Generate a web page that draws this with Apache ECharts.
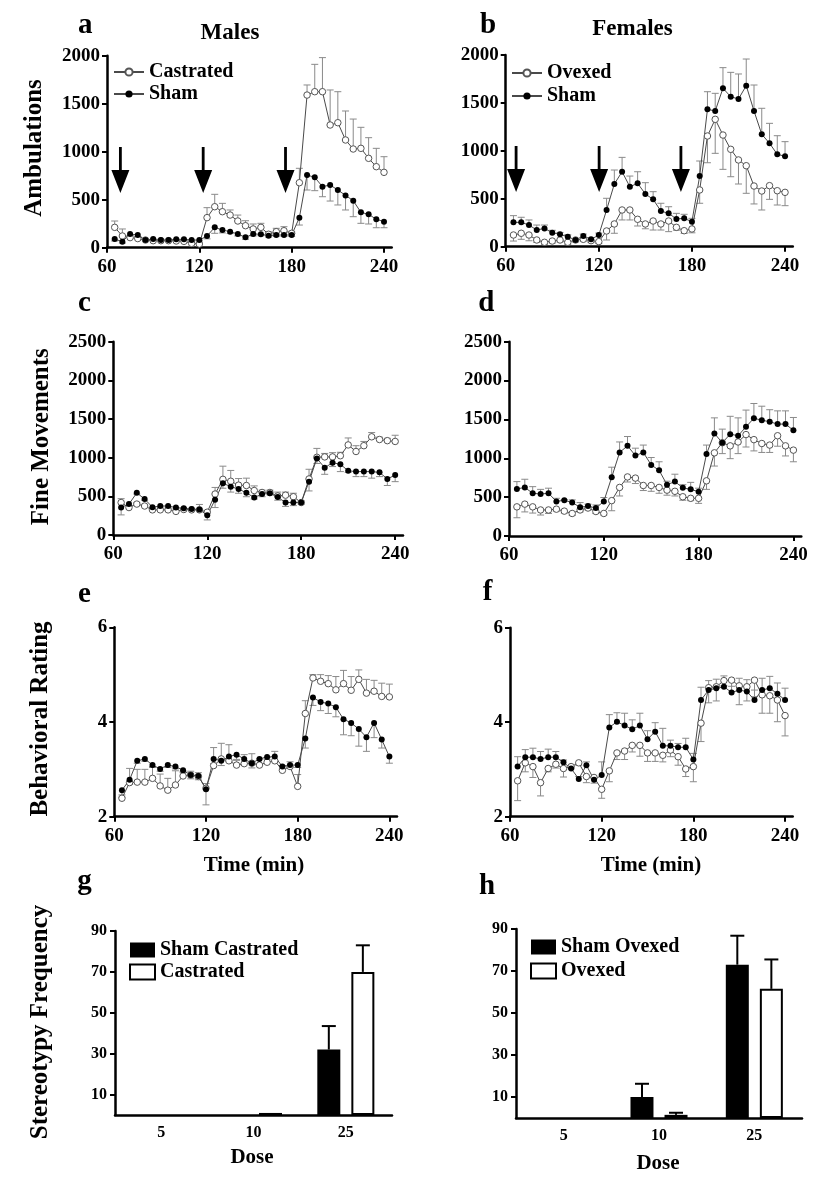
<!DOCTYPE html>
<html><head><meta charset="utf-8">
<script src="https://cdn.jsdelivr.net/npm/echarts@6/dist/echarts.min.js"></script>
<style>html,body{margin:0;padding:0;background:#fff}#c{width:819px;height:1186px}</style>
</head><body><div id="c"></div>
<script>
// ---------- DATA ----------
const times = [65,70,75,80,85,90,95,100,105,110,115,120,
               125,130,135,140,145,150,155,160,165,170,175,180,
               185,190,195,200,205,210,215,220,225,230,235,240];
const xTicks = [60,120,180,240];
const doses = ['5','10','25'];
const barYTicks = [10,30,50,70,90];
const arrowTimesA = [68.7,122.5,176];
const arrowTimesB = [66.7,120.2,172.9];
const arrowSpan = [1050,570];

// a: Males ambulations
const aCastrated = [212,122,105,95,80,73,73,73,70,66,45,38,
                    313,427,375,340,278,229,195,212,140,167,177,150,
                    677,1590,1625,1625,1278,1302,1122,1028,1035,931,844,785];
const aCastratedErr = [66,73,20,20,15,15,15,15,15,15,15,15,
                       104,129,87,53,62,52,52,42,25,35,42,20,
                       150,105,285,355,365,323,302,312,219,215,191,163];
const aSham = [90,63,143,132,80,90,80,80,87,87,80,80,
               122,212,184,167,143,108,143,140,125,132,132,132,
               313,757,733,636,653,601,545,490,368,348,296,271];
const aShamErr = [20,15,15,15,10,10,10,10,10,10,10,10,
                  30,62,30,20,20,20,20,15,15,15,15,15,
                  77,156,139,105,167,156,152,167,114,101,88,63];
// b: Females ambulations
const bSham = [254,254,226,174,191,146,129,104,70,112,77,122,
               383,654,782,626,661,550,494,372,348,289,296,261,
               738,1433,1416,1653,1565,1541,1680,1416,1173,1079,964,943];
const bShamErr = [70,53,53,52,35,25,20,20,15,20,15,20,
                  122,146,150,111,121,118,80,81,69,59,42,35,
                  156,184,184,215,254,261,278,271,271,208,194,153];
const bOvexed = [122,140,122,70,46,59,70,46,70,77,63,53,
                 164,237,383,383,286,237,268,237,268,202,167,185,
                 592,1155,1329,1165,1016,905,845,633,581,637,584,567];
const bOvexedErr = [63,63,60,25,20,20,20,20,20,20,20,20,
                    94,97,104,104,70,50,94,63,111,30,28,40,
                    139,279,355,358,286,251,288,187,198,143,149,139];
// c: Males fine movements
const cCastrated = [420,355,400,375,325,325,325,305,330,325,325,295,
                    530,720,695,645,640,575,550,550,505,515,495,420,
                    725,1005,1010,1010,1025,1165,1080,1155,1270,1235,1220,1210];
const cCastratedErr = [50,20,20,20,15,15,15,15,15,15,70,15,
                       85,170,140,85,95,60,30,30,50,40,45,20,
                       125,115,45,55,45,90,75,55,55,30,30,80];
const cSham = [355,400,545,465,360,375,375,355,345,335,330,255,
               455,670,625,595,545,485,530,540,490,420,420,420,
               690,990,870,935,915,830,820,820,820,810,725,775];
const cShamErr = [95,20,15,15,15,15,15,15,15,15,15,60,
                  100,65,70,55,50,20,35,20,40,50,40,20,
                  120,65,85,50,95,20,65,65,85,55,85,85];
// d: Females fine movements
const dSham = [605,625,550,540,550,445,460,430,370,385,360,445,
               755,1075,1160,1035,1075,915,845,660,700,620,600,570,
               1055,1320,1200,1310,1290,1405,1515,1490,1470,1440,1440,1360];
const dShamErr = [95,105,85,60,65,40,10,35,60,25,40,50,
                  130,135,120,95,95,95,110,45,95,40,90,45,
                  115,200,175,230,230,215,190,180,155,170,170,165];
const dOvexed = [375,410,375,335,335,345,320,290,335,360,315,290,
                 455,625,760,745,650,650,625,590,575,505,485,485,
                 710,1070,1200,1160,1210,1305,1240,1190,1170,1290,1160,1105];
const dOvexedErr = [140,100,80,65,45,25,25,25,25,25,25,20,
                    130,110,65,70,65,75,75,65,60,45,30,65,
                    110,170,140,165,150,160,145,115,95,135,130,150];
// e: Males behavioral rating
const eCastrated = [2.39,2.72,2.73,2.73,2.81,2.65,2.56,2.67,2.86,2.88,2.85,2.6,
                    3.08,3.22,3.18,3.09,3.12,3.13,3.09,3.15,3.18,2.98,3.06,2.64,
                    4.18,4.93,4.86,4.81,4.68,4.81,4.67,4.9,4.61,4.65,4.54,4.53];
const eCastratedErr = [0.07,0.3,0.27,0.27,0.25,0.25,0.25,0.3,0.1,0.08,0.08,0.1,
                       0.38,0.33,0.34,0.1,0.19,0.2,0.13,0.1,0.2,0.1,0.1,0.25,
                       0.27,0.07,0.14,0.17,0.28,0.28,0.29,0.2,0.29,0.23,0.28,0.27];
const eSham = [2.56,2.78,3.18,3.22,3.09,3.01,3.09,3.06,2.98,2.88,2.86,2.58,
               3.22,3.18,3.27,3.31,3.22,3.13,3.22,3.26,3.27,3.06,3.09,3.09,
               3.65,4.52,4.42,4.39,4.31,4.06,3.98,3.85,3.68,3.98,3.63,3.27];
const eShamErr = [0.15,0.1,0.05,0.05,0.05,0.05,0.05,0.05,0.05,0.08,0.08,0.33,
                  0.1,0.1,0.1,0.1,0.1,0.1,0.1,0.05,0.1,0.05,0.05,0.05,
                  0.2,0.17,0.18,0.21,0.2,0.33,0.27,0.36,0.3,0.31,0.18,0.14];
// f: Females behavioral rating
const fSham = [3.06,3.26,3.26,3.22,3.26,3.26,3.15,3.02,2.8,3.09,2.78,2.88,
               3.89,4.01,3.93,3.85,3.93,3.64,3.8,3.5,3.5,3.47,3.47,3.21,
               4.47,4.68,4.72,4.75,4.63,4.68,4.65,4.47,4.68,4.72,4.6,4.47];
const fShamErr = [0.21,0.16,0.19,0.16,0.17,0.12,0.05,0.05,0.05,0.07,0.05,0.28,
                  0.27,0.19,0.26,0.2,0.26,0.18,0.19,0.37,0.12,0.08,0.19,0.13,
                  0.27,0.2,0.19,0.23,0.26,0.25,0.25,0.21,0.25,0.25,0.23,0.25];
const fOvexed = [2.76,3.14,3.06,2.72,3.02,3.11,3.02,3.06,3.14,2.85,2.83,2.58,
                 2.97,3.35,3.39,3.51,3.51,3.35,3.35,3.3,3.41,3.27,3.01,3.06,
                 3.98,4.73,4.75,4.88,4.89,4.77,4.75,4.89,4.58,4.56,4.47,4.14];
const fOvexedErr = [0.42,0.19,0.23,0.28,0.07,0.08,0.18,0.05,0.05,0.13,0.12,0.19,
                    0.23,0.14,0.18,0.14,0.23,0.18,0.18,0.14,0.14,0.18,0.16,0.32,
                    0.39,0.32,0.3,0.11,0.13,0.4,0.3,0.35,0.39,0.37,0.46,0.43];
// g, h: stereotypy frequency
const gShamCastrated = [0,0,32];
const gShamCastratedErr = [0,0,11.5];
const gCastrated = [0,1,70];
const gCastratedErr = [0,0,13];
const hShamOvexed = [0,10,73];
const hShamOvexedErr = [0,6.3,13.8];
const hOvexed = [0,1.5,61.5];
const hOvexedErr = [0,1,14];

// ---------- STYLE / LAYOUT ----------
const FONT = '"Liberation Serif","Times New Roman",serif';
const LINE_COLOR = '#4a4a4a', ERR_COLOR = '#8a8a8a', OPEN_BORDER = '#555';
const BAR_W = 23, BAR_GAP = 0.48;
const bold = (size) => ({fontFamily: FONT, fontWeight: 'bold', fontSize: size, color: '#000'});
const plain = (v) => String(v);

const linePanels = [
  {grid:{left:107,top:55.7,width:284.7,height:192}, y:[0,2000,500], arrows:arrowTimesA,
   s:[{name:'Castrated',open:true,mean:aCastrated,err:aCastratedErr,dir:1},
      {name:'Sham',open:false,mean:aSham,err:aShamErr,dir:-1}]},
  {grid:{left:505.7,top:55,width:287.1,height:191.7}, y:[0,2000,500], arrows:arrowTimesB,
   s:[{name:'Ovexed',open:true,mean:bOvexed,err:bOvexedErr,dir:-1},
      {name:'Sham',open:false,mean:bSham,err:bShamErr,dir:1}]},
  {grid:{left:113.3,top:341.7,width:289.7,height:193.3}, y:[0,2500,500],
   s:[{name:'Castrated',open:true,mean:cCastrated,err:cCastratedErr,dir:1},
      {name:'Sham',open:false,mean:cSham,err:cShamErr,dir:-1}]},
  {grid:{left:509,top:341.7,width:292.3,height:194.3}, y:[0,2500,500],
   s:[{name:'Ovexed',open:true,mean:dOvexed,err:dOvexedErr,dir:-1},
      {name:'Sham',open:false,mean:dSham,err:dShamErr,dir:1}]},
  {grid:{left:114.3,top:627.3,width:282.7,height:189.4}, y:[2,6,2],
   s:[{name:'Castrated',open:true,mean:eCastrated,err:eCastratedErr,dir:1},
      {name:'Sham',open:false,mean:eSham,err:eShamErr,dir:-1}]},
  {grid:{left:510,top:627.7,width:282.7,height:189}, y:[2,6,2],
   s:[{name:'Ovexed',open:true,mean:fOvexed,err:fOvexedErr,dir:-1},
      {name:'Sham',open:false,mean:fSham,err:fShamErr,dir:1}]}
];
const barPanels = [
  {grid:{left:115,top:931,width:277,height:184},
   s:[{name:'Sham Castrated',filled:true,vals:gShamCastrated,err:gShamCastratedErr},
      {name:'Castrated (bar)',filled:false,vals:gCastrated,err:gCastratedErr}]},
  {grid:{left:516,top:929,width:286,height:189},
   s:[{name:'Sham Ovexed',filled:true,vals:hShamOvexed,err:hShamOvexedErr},
      {name:'Ovexed (bar)',filled:false,vals:hOvexed,err:hOvexedErr}]}
];

const grids = [], xAxes = [], yAxes = [], series = [];
const axisLine = {show:true, onZero:false, lineStyle:{color:'#000', width:2.5}};
const tickStyle = {color:'#000', width:2};

linePanels.forEach((p, i) => {
  grids.push(Object.assign({outerBoundsMode:'none', containLabel:false}, p.grid));
  xAxes.push({gridIndex:i, type:'value', min:60, max:245, interval:60,
    axisLine, axisTick:{show:true, length:5, lineStyle:tickStyle, customValues:xTicks},
    axisLabel:Object.assign({customValues:xTicks, margin:10, formatter:plain}, bold(19)), splitLine:{show:false}});
  yAxes.push({gridIndex:i, type:'value', min:p.y[0], max:p.y[1], interval:p.y[2],
    axisLine, axisTick:{show:true, length:5, lineStyle:tickStyle},
    axisLabel:Object.assign({margin:7, formatter:plain}, bold(19)), splitLine:{show:false}});
  p.s.forEach(s => {
    const dir = s.dir;
    series.push({type:'custom', xAxisIndex:i, yAxisIndex:i, z:1, silent:true, clip:false,
      data: times.map((t,k) => [t, s.mean[k], s.err[k]]),
      renderItem: (params, api) => {
        const t = api.value(0), m = api.value(1), e = api.value(2);
        if (!(e > 0)) return null;
        const p0 = api.coord([t, m]), p1 = api.coord([t, m + dir*e]);
        const st = {stroke: ERR_COLOR, lineWidth: 1};
        return {type:'group', children:[
          {type:'line', shape:{x1:p0[0], y1:p0[1], x2:p1[0], y2:p1[1]}, style:st},
          {type:'line', shape:{x1:p1[0]-3.5, y1:p1[1], x2:p1[0]+3.5, y2:p1[1]}, style:st}]};
      }});
  });
  p.s.forEach(s => {
    series.push({type:'line', name:s.name, xAxisIndex:i, yAxisIndex:i, z:2, animation:false,
      data: times.map((t,k) => [t, s.mean[k]]),
      symbol:'circle', symbolSize: s.open ? 6.5 : 6, showSymbol:true,
      lineStyle:{color:LINE_COLOR, width:1},
      itemStyle: s.open ? {color:'#fff', borderColor:OPEN_BORDER, borderWidth:1} : {color:'#000'},
      emphasis:{disabled:true}});
  });
  if (p.arrows) {
    series.push({type:'custom', xAxisIndex:i, yAxisIndex:i, z:3, silent:true, clip:false,
      data: p.arrows.map(t => [t, arrowSpan[0], arrowSpan[1]]),
      renderItem: (params, api) => {
        const a = api.coord([api.value(0), api.value(1)]);
        const b = api.coord([api.value(0), api.value(2)]);
        const x = a[0], hs = 9, sw = 1.4, yh = b[1] - 23;
        return {type:'polygon', shape:{points:[[x-sw,a[1]],[x+sw,a[1]],[x+sw,yh],[x+hs,yh],[x,b[1]],[x-hs,yh],[x-sw,yh]]},
          style:{fill:'#000'}};
      }});
  }
});

barPanels.forEach((p, j) => {
  const i = linePanels.length + j;
  grids.push(Object.assign({outerBoundsMode:'none', containLabel:false}, p.grid));
  xAxes.push({gridIndex:i, type:'category', data:doses,
    axisLine, axisTick:{show:false},
    axisLabel:Object.assign({margin:10}, bold(16)), splitLine:{show:false}});
  yAxes.push({gridIndex:i, type:'value', min:0, max:90,
    axisLine, axisTick:{show:true, length:5, lineStyle:tickStyle, customValues:barYTicks},
    axisLabel:Object.assign({customValues:barYTicks, margin:8, formatter:plain}, bold(16)), splitLine:{show:false}});
  p.s.forEach((s, k) => {
    series.push({type:'bar', name:s.name, xAxisIndex:i, yAxisIndex:i, z:2, animation:false,
      data:s.vals.map(v => v > 0 ? v : {value:v, itemStyle:{borderWidth:0, color:'transparent'}}),
      barWidth:BAR_W, barGap:(BAR_GAP*100)+'%',
      itemStyle: s.filled ? {color:'#000'} : {color:'#fff', borderColor:'#000', borderWidth:2},
      emphasis:{disabled:true}});
  });
  p.s.forEach((s, k) => {
    const side = k === 0 ? -1 : 1;
    series.push({type:'custom', xAxisIndex:i, yAxisIndex:i, z:3, silent:true, clip:false,
      data: s.vals.map((v,q) => [q, v, s.err[q]]),
      renderItem: (params, api) => {
        const e = api.value(2);
        if (!(e > 0)) return null;
        const v = api.value(1);
        const c0 = api.coord([api.value(0), v]), c1 = api.coord([api.value(0), v + e]);
        const x = c0[0] + side * BAR_W * (1 + BAR_GAP) / 2;
        const st = {stroke:'#000', lineWidth:2};
        return {type:'group', children:[
          {type:'line', shape:{x1:x, y1:c0[1], x2:x, y2:c1[1]}, style:st},
          {type:'line', shape:{x1:x-7, y1:c1[1], x2:x+7, y2:c1[1]}, style:st}]};
      }});
  });
});

const legendText = bold(20);
const legends = [
  {data:['Castrated','Sham'], left:113, top:62, itemWidth:30, itemHeight:9, itemGap:2},
  {data:['Ovexed','Sham'], left:511, top:63, itemWidth:30, itemHeight:9, itemGap:3},
  {data:['Sham Castrated','Castrated (bar)'], left:129, top:940, itemWidth:25, itemHeight:15, itemGap:2, icon:'rect'},
  {data:['Sham Ovexed','Ovexed (bar)'], left:530, top:937, itemWidth:25, itemHeight:15, itemGap:4, icon:'rect'}
].map(l => Object.assign({orient:'vertical', itemTextGap:4, selectedMode:false, padding:0,
  textStyle:legendText, formatter: n => n.replace(' (bar)','')}, l));

function txt(text, x, y, size, align, rot) {
  return {type:'text', x, y, rotation: rot || 0, silent:true,
    style:{text, fontFamily:FONT, fontWeight:'bold', fontSize:size, fill:'#000',
      align: align || 'left', verticalAlign:'middle',
      textAlign: align || 'left', textVerticalAlign:'middle'}};
}
const R = Math.PI / 2;
const graphics = [
  txt('a', 78, 25.7, 29), txt('b', 480, 25.7, 29),
  txt('Males', 230, 32.6, 23, 'center'), txt('Females', 632.5, 29.3, 23, 'center'),
  txt('c', 78, 303.7, 29), txt('d', 478.3, 303.7, 29),
  txt('e', 78, 594.7, 29), txt('f', 482.7, 592.4, 29),
  txt('g', 77.3, 882, 29), txt('h', 479, 886.7, 29),
  txt('Ambulations', 34.4, 148, 25, 'center', R),
  txt('Fine Movements', 42, 436.7, 25, 'center', R),
  txt('Behavioral Rating', 40.7, 719, 25, 'center', R),
  txt('Stereotypy Frequency', 40.7, 1022, 25, 'center', R),
  txt('Time (min)', 254, 865.3, 21, 'center'), txt('Time (min)', 651, 865.3, 21, 'center'),
  txt('Dose', 252, 1157.3, 21, 'center'), txt('Dose', 658, 1163.3, 21, 'center')
];

const chart = echarts.init(document.getElementById('c'), null, {renderer:'canvas', width:819, height:1186});
chart.setOption({
  animation:false, backgroundColor:'#fff',
  grid:grids, xAxis:xAxes, yAxis:yAxes, series, legend:legends, graphic:graphics
});
</script>
</body></html>
